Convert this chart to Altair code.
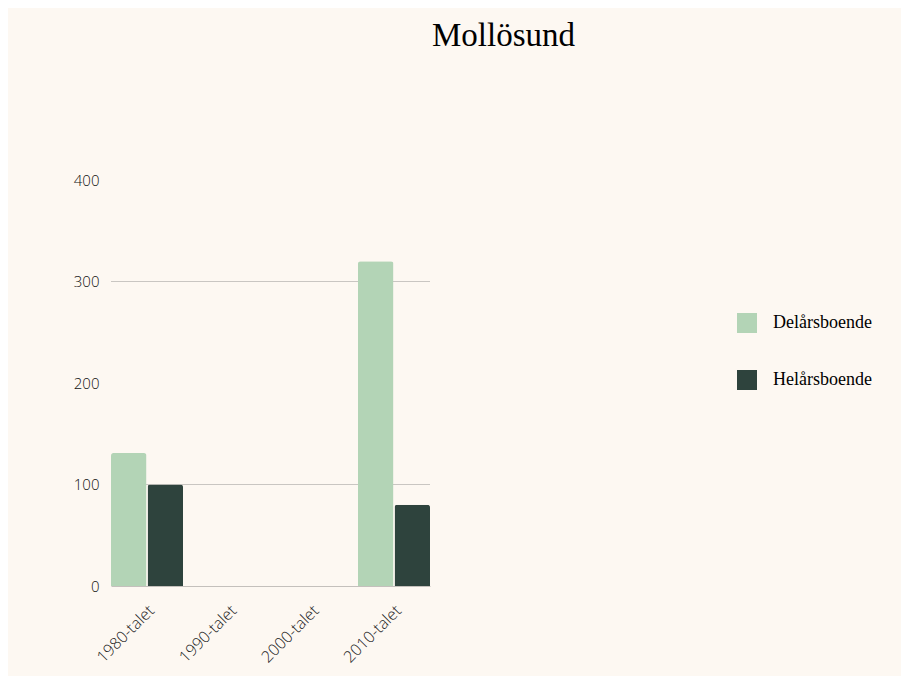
import altair as alt
import pandas as pd

decades = ["1980-talet", "1990-talet", "2000-talet", "2010-talet"]
series = ["Delårsboende", "Helårsboende"]
delars = [131, 0, 0, 320]
helars = [100, 0, 0, 80]
bar_colors = ["#b3d4b6", "#2e433d"]
grid_values = [100, 300]
y_ticks = [0, 100, 200, 300, 400]

rows = []
for i, d in enumerate(decades):
    rows.append({"decade": d, "series": series[0], "value": delars[i]})
    rows.append({"decade": d, "series": series[1], "value": helars[i]})
df = pd.DataFrame(rows)

W, H = 319, 406

bars = alt.Chart(df).mark_bar(cornerRadiusTopLeft=2.5, cornerRadiusTopRight=2.5).encode(
    x=alt.X("decade:N", sort=decades,
            scale=alt.Scale(paddingInner=0.125, paddingOuter=0),
            axis=alt.Axis(title=None, labelAngle=-45, labelFont="Open Sans",
                          labelFontSize=16, labelFontWeight=300, labelColor="#222",
                          ticks=False, domain=True, domainColor="#c4c0bc",
                          labelPadding=16, labelOffset=-1)),
    xOffset=alt.XOffset("series:N", sort=series, scale=alt.Scale(paddingInner=0.03)),
    y=alt.Y("value:Q", scale=alt.Scale(domain=[0, 400], nice=False),
            axis=alt.Axis(title=None, values=y_ticks, grid=False, domain=False,
                          ticks=False, labelFont="Open Sans", labelFontSize=15,
                          labelFontWeight=300, labelColor="#111", labelPadding=12)),
    color=alt.Color("series:N", sort=series,
                    scale=alt.Scale(domain=series, range=bar_colors),
                    legend=alt.Legend(title=None, orient="none", legendX=626, legendY=133,
                                      symbolType="square", symbolSize=400,
                                      symbolStrokeWidth=0, rowPadding=37,
                                      labelFont="Liberation Serif", labelFontSize=18,
                                      labelColor="#000", labelOffset=16)),
)

grid = alt.Chart(pd.DataFrame({"g": grid_values})).mark_rule(color="#c9c6c2", strokeWidth=1).encode(
    y=alt.Y("g:Q"),
    x=alt.value(0), x2=alt.value(W),
)

chart = alt.layer(grid, bars).properties(
    width=W, height=H,
    title=alt.Title("Mollösund", font="Liberation Serif", fontSize=33, fontWeight="normal",
                    color="#000", anchor="middle", frame="group", dx=233, offset=120),
    background="#fdf8f2",
    padding={"left": 103, "top": 172, "right": 471, "bottom": 90},
    autosize=alt.AutoSizeParams(type="none"),
).configure_view(stroke=None)

chart.save("out.html", embed_options={"renderer": "svg", "actions": False})
